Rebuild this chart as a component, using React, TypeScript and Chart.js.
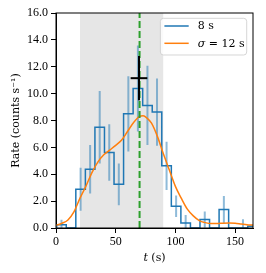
import React, { useEffect, useRef } from "react";
import { Chart, registerables } from "chart.js";

Chart.register(...registerables);

// ---- data ----
const binEdges = [0.6, 8.6, 16.6, 24.6, 32.6, 40.6, 48.6, 56.6, 64.6, 72.6, 80.6, 88.6, 96.6, 104.6, 112.6, 120.6, 128.6, 136.6, 144.6, 152.6, 160.6, 168.6];
const binRates = [0.25, 0, 2.875, 4.375, 7.5, 5.625, 3.25, 8.5, 10.375, 9.125, 8.625, 4.625, 1.625, 0.375, 0, 0.625, 0, 1.375, 0, 0, 0.125];
const binErrors = [0.37, 0, 1.6, 1.8, 2.7, 2.1, 1.55, 2.8, 3.2, 2.95, 2.5, 1.8, 0.8, 0.6, 0, 0.6, 0, 1.0, 0, 0.65, 0];

const smoothTimes = [0, 5, 10, 15, 20, 25, 30, 35, 40, 45, 50, 55, 60, 65, 70, 73, 76, 80, 85, 90, 95, 100, 105, 110, 115, 120, 125, 130, 135, 140, 145, 150, 155, 160, 165];
const smoothRates = [0.2, 0.35, 0.6, 1.2, 2.2, 3.1, 4.1, 4.9, 5.45, 5.8, 6.15, 6.55, 7.2, 7.85, 8.3, 8.35, 8.2, 7.8, 6.8, 5.5, 4.3, 3.1, 2.2, 1.4, 0.9, 0.55, 0.4, 0.33, 0.33, 0.36, 0.37, 0.35, 0.3, 0.25, 0.22];

const shadeStart = 20;
const shadeEnd = 90;
const peakTime = 70;
const crossTime = 69.5;
const crossRate = 11.15;
const crossTimeErr = 7;
const crossRateErr = 1.65;

const xTicks = [0, 50, 100, 150];
const yTicks = [0, 2, 4, 6, 8, 10, 12, 14, 16];
const xMin = 0;
const xMax = 165;
const yMin = 0;
const yMax = 16;

const histLabel = "8 s";
const smoothLabel = "12 s";
const xTitle = "t";
const xUnit = " (s)";
const yTitle = "Rate (counts s\u207B\u00B9)";

const TICK_FONT = "'Liberation Serif', 'DejaVu Serif', serif";
const TEXT_FONT = "'DejaVu Serif', 'Liberation Serif', serif";
const BLUE = "#1f77b4";
const ORANGE = "#ff7f0e";
const GREEN = "#2ca02c";

export default function App() {
  const ref = useRef<HTMLCanvasElement | null>(null);

  useEffect(() => {
    if (!ref.current) return;

    const stepData: { x: number; y: number }[] = [{ x: binEdges[0], y: 0 }];
    binRates.forEach((v, i) => stepData.push({ x: binEdges[i], y: v }));
    stepData.push({ x: binEdges[binEdges.length - 1], y: binRates[binRates.length - 1] });

    const errData: { x: number; y: number | null }[] = [];
    binRates.forEach((v, i) => {
      const e = binErrors[i];
      if (e > 0) {
        const c = (binEdges[i] + binEdges[i + 1]) / 2;
        errData.push({ x: c, y: v - e }, { x: c, y: v + e }, { x: c, y: null });
      }
    });

    const smoothData = smoothTimes.map((t, i) => ({ x: t, y: smoothRates[i] }));

    const framePlugin = {
      id: "frameAndLegend",
      afterDatasetsDraw(chart: any) {
        const ctx = chart.ctx as CanvasRenderingContext2D;
        const { left, right, top, bottom } = chart.chartArea;
        ctx.save();
        // spines
        ctx.strokeStyle = "#000";
        ctx.lineWidth = 1;
        ctx.strokeRect(left, top, right - left, bottom - top);

        // legend box
        const bl = right - 92.6;
        const br = right - 6.3;
        const bt = top + 5.3;
        const bb = top + 42;
        const r = 3;
        ctx.beginPath();
        ctx.moveTo(bl + r, bt);
        ctx.lineTo(br - r, bt);
        ctx.quadraticCurveTo(br, bt, br, bt + r);
        ctx.lineTo(br, bb - r);
        ctx.quadraticCurveTo(br, bb, br - r, bb);
        ctx.lineTo(bl + r, bb);
        ctx.quadraticCurveTo(bl, bb, bl, bb - r);
        ctx.lineTo(bl, bt + r);
        ctx.quadraticCurveTo(bl, bt, bl + r, bt);
        ctx.closePath();
        ctx.fillStyle = "rgba(255,255,255,0.8)";
        ctx.fill();
        ctx.strokeStyle = "rgba(204,204,204,0.8)";
        ctx.lineWidth = 1;
        ctx.stroke();

        const y1 = top + 13;
        const y2 = top + 30.3;
        ctx.lineWidth = 1.5;
        ctx.strokeStyle = BLUE;
        ctx.beginPath();
        ctx.moveTo(bl + 4, y1);
        ctx.lineTo(bl + 28.3, y1);
        ctx.stroke();
        ctx.strokeStyle = ORANGE;
        ctx.beginPath();
        ctx.moveTo(bl + 4, y2);
        ctx.lineTo(bl + 28.3, y2);
        ctx.stroke();

        ctx.fillStyle = "#000";
        ctx.textBaseline = "middle";
        ctx.textAlign = "left";
        const tx = bl + 37.3;
        ctx.font = `11px ${TEXT_FONT}`;
        ctx.fillText(histLabel, tx, y1 + 0.5);
        ctx.font = `italic 11px ${TEXT_FONT}`;
        ctx.fillText("\u03C3", tx, y2 + 0.5);
        const sw = ctx.measureText("\u03C3").width;
        ctx.font = `11px ${TEXT_FONT}`;
        ctx.fillText(" = " + smoothLabel, tx + sw, y2 + 0.5);

        // x axis title with italic t
        ctx.font = `italic 11px ${TEXT_FONT}`;
        const w1 = ctx.measureText(xTitle).width;
        ctx.font = `11px ${TEXT_FONT}`;
        const w2 = ctx.measureText(xUnit).width;
        const cx = (left + right) / 2;
        const x0 = cx - (w1 + w2) / 2;
        const ty = 258;
        ctx.font = `italic 11px ${TEXT_FONT}`;
        ctx.fillText(xTitle, x0, ty);
        ctx.font = `11px ${TEXT_FONT}`;
        ctx.fillText(xUnit, x0 + w1, ty);
        ctx.restore();
      },
    };

    const chart = new Chart(ref.current, {
      type: "line",
      data: {
        datasets: [
          {
            label: "crossH",
            data: [
              { x: crossTime - crossTimeErr, y: crossRate },
              { x: crossTime + crossTimeErr, y: crossRate },
            ],
            borderColor: "#000",
            borderWidth: 2,
            pointRadius: 0,
            order: 0,
          },
          {
            label: "crossV",
            data: [
              { x: crossTime, y: crossRate - crossRateErr },
              { x: crossTime, y: crossRate + crossRateErr },
            ],
            borderColor: "#000",
            borderWidth: 2,
            pointRadius: 0,
            order: 0,
          },
          {
            label: "peak",
            data: [
              { x: peakTime, y: yMin },
              { x: peakTime, y: yMax },
            ],
            borderColor: GREEN,
            borderWidth: 2,
            borderDash: [7, 3],
            pointRadius: 0,
            order: 1,
          },
          {
            label: "sigma = " + smoothLabel,
            data: smoothData,
            borderColor: ORANGE,
            borderWidth: 1.5,
            pointRadius: 0,
            tension: 0.4,
            cubicInterpolationMode: "monotone",
            order: 2,
          },
          {
            label: histLabel,
            data: stepData,
            borderColor: BLUE,
            borderWidth: 1.5,
            pointRadius: 0,
            stepped: "before",
            order: 3,
          },
          {
            label: "errors",
            data: errData as any,
            borderColor: "rgba(31,119,180,0.5)",
            borderWidth: 2,
            pointRadius: 0,
            spanGaps: false,
            order: 4,
          },
          {
            label: "window",
            data: [
              { x: shadeStart, y: yMax },
              { x: shadeEnd, y: yMax },
            ],
            borderWidth: 0,
            borderColor: "rgba(0,0,0,0)",
            backgroundColor: "rgba(128,128,128,0.2)",
            fill: "origin",
            pointRadius: 0,
            order: 5,
          },
        ],
      },
      options: {
        animation: false,
        responsive: false,
        events: [],
        layout: { padding: { left: 0, right: 13, top: 13, bottom: 0 } },
        plugins: {
          legend: { display: false },
          tooltip: { enabled: false },
        },
        scales: {
          x: {
            type: "linear",
            min: xMin,
            max: xMax,
            afterBuildTicks: (scale: any) => {
              scale.ticks = xTicks.map((v) => ({ value: v }));
            },
            afterFit: (scale: any) => {
              scale.height = 45;
            },
            ticks: {
              color: "#000",
              font: { family: TICK_FONT, size: 12 },
              padding: 2,
              maxRotation: 0,
              callback: (v: any) => String(v),
            },
            grid: {
              drawOnChartArea: false,
              drawTicks: true,
              tickLength: 5,
              color: "#000",
            },
            border: { display: true, color: "#000", width: 1 },
            title: { display: false },
          },
          y: {
            type: "linear",
            min: yMin,
            max: yMax,
            afterBuildTicks: (scale: any) => {
              scale.ticks = yTicks.map((v) => ({ value: v }));
            },
            afterFit: (scale: any) => {
              scale.width = 56;
            },
            ticks: {
              color: "#000",
              font: { family: TICK_FONT, size: 12 },
              padding: 3,
              callback: (v: any) => Number(v).toFixed(1),
            },
            grid: {
              drawOnChartArea: false,
              drawTicks: true,
              tickLength: 5,
              color: "#000",
            },
            border: { display: true, color: "#000", width: 1 },
            title: {
              display: true,
              text: yTitle,
              color: "#000",
              font: { family: TEXT_FONT, size: 11 },
              padding: { top: 10, bottom: 0 },
            },
          },
        },
      },
      plugins: [framePlugin],
    } as any);

    return () => chart.destroy();
  }, []);

  return (
    <div style={{ position: "absolute", left: 0, top: 0, width: 266, height: 273 }}>
      <canvas ref={ref} width={266} height={273} style={{ display: "block", width: 266, height: 273 }} />
    </div>
  );
}
